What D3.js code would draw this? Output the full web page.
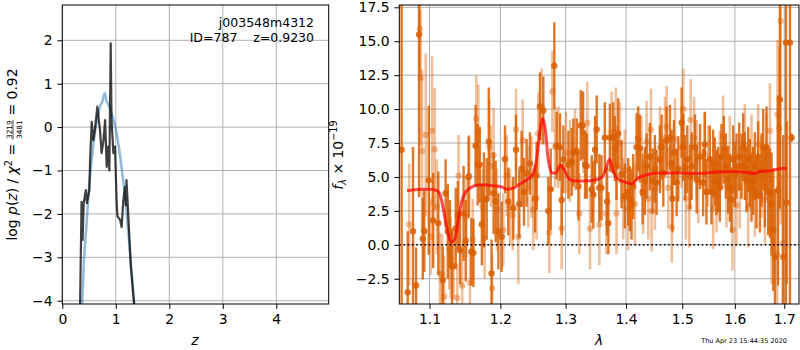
<!DOCTYPE html>
<html><head><meta charset="utf-8">
<script src="https://cdn.jsdelivr.net/npm/d3@7"></script>
<style>
body{margin:0;background:#fff}
svg{display:block}
text{font-family:"DejaVu Sans",sans-serif;fill:#000}
</style>
</head><body>
<svg id="c" width="800" height="350"></svg>
<script>
// ---------------- DATA ----------------
const objName = "j003548m4312";
const objInfo = "ID=787    z=0.9230";
const stamp = "Thu Apr 23 15:44:35 2020";

const pzTicksX = [0, 1, 2, 3, 4];
const pzTicksY = [-4, -3, -2, -1, 0, 1, 2];

// smooth (prior-like) curve, light blue
const priorZ    = [0.37, 0.40, 0.45, 0.50, 0.55, 0.60, 0.65, 0.70, 0.75, 0.78, 0.80, 0.82, 0.85, 0.90, 0.95, 1.00, 1.05, 1.10, 1.15, 1.20, 1.25, 1.30, 1.35];
const priorLogP = [-4.2, -3.2, -2.3, -1.4, -0.75, -0.2, 0.15, 0.45, 0.6, 0.75, 0.78, 0.62, 0.55, 0.40, 0.2, -0.05, -0.4, -0.85, -1.35, -1.95, -2.65, -3.4, -4.2];

// jagged p(z), dark
const pzZ    = [0.33, 0.36, 0.38, 0.40, 0.44, 0.46, 0.505, 0.52, 0.55, 0.58, 0.61, 0.655, 0.705, 0.735, 0.77, 0.80, 0.83, 0.86, 0.88, 0.905, 0.92, 0.955, 0.985, 1.015, 1.03, 1.08, 1.11, 1.14, 1.17, 1.19, 1.20, 1.23, 1.28, 1.33, 1.36];
const pzLogP = [-4.3, -1.72, -2.6, -1.75, -1.45, -1.75, -1.45, -0.76, 0.12, -0.3, -0.05, 0.47, -0.07, -0.6, -0.3, 0.16, -0.92, -0.45, -1.0, 1.93, 0.16, -0.6, -0.45, -1.68, -2.05, -2.14, -2.3, -1.7, -1.38, -1.8, -1.22, -1.95, -3.2, -3.9, -4.3];

const specTicksX = [1.1, 1.2, 1.3, 1.4, 1.5, 1.6, 1.7];
const specTicksY = [-2.5, 0, 2.5, 5, 7.5, 10, 12.5, 15, 17.5];

// dark orange spectrum: [lambda, flux, err]
const specDark = [
 [1.063, 7.0, 30], [1.071, -3.5, 4.5], [1.078, 1.0, 6.2], [1.082, -3.0, 2.8], [1.086, 15.5, 12],
 [1.091, 0.45, 3.0], [1.093, 1.0, 3.0], [1.099, 4.75, 5.5], [1.105, 1.8, 3.5], [1.112, 1.6, 3.8],
 [1.118, -2.6, 2.5], [1.122, 3.8, 2.5], [1.125, 1.0, 3.5], [1.128, 0.8, 2.5], [1.131, -1.6, 2.8],
 [1.136, 1.2, 3.0], [1.139, 2.2, 2.5], [1.142, -0.4, 2.5], [1.147, 2.3, 3.5], [1.150, 0.3, 3.0],
 [1.154, 5.0, 3.0], [1.158, -0.5, 2.5], [1.161, -0.6, 2.5], [1.164, 7.3, 3.0], [1.167, 5.9, 3.0],
 [1.170, 5.9, 2.8], [1.173, 1.5, 3.0], [1.176, 3.3, 3.5], [1.180, 3.4, 3.0], [1.183, 7.6, 4.0],
 [1.187, -2.1, 2.5], [1.190, 3.8, 3.0], [1.193, 3.2, 3.0], [1.197, 1.0, 2.8],
 [1.2019, 0.6, 2.6], [1.2068, 6.3, 2.5], [1.2117, 3.2, 2.5], [1.2192, 2.7, 2.3], [1.2232, 7.0, 2.6],
 [1.2282, 3.0, 2.5], [1.2317, 5.6, 2.8], [1.2352, 3.9, 2.5], [1.2392, 5.3, 2.5], [1.2443, 6.0, 2.3],
 [1.2520, 3.4, 2.5], [1.2545, 5.1, 2.5], [1.2597, 10.2, 2.5], [1.2649, 9.9, 2.5], [1.2727, 2.5, 2.5],
 [1.2764, 4.1, 3.0], [1.2821, 13.2, 3.2], [1.2858, 7.3, 2.5], [1.2911, 7.2, 2.5], [1.2937, 3.3, 2.6],
 [1.2964, 6.3, 2.5], [1.3044, 5.9, 2.5], [1.3097, 6.1, 2.5], [1.3124, 6.8, 2.5], [1.3178, 6.9, 2.4],
 [1.3205, 4.3, 2.5], [1.3243, 8.8, 2.6], [1.3275, 8.8, 2.5], [1.3313, 5.9, 2.5], [1.3341, 5.8, 2.4],
 [1.3423, 4.1, 2.5], [1.3450, 3.7, 2.5], [1.3478, 7.0, 2.5], [1.3505, 8.5, 2.5], [1.3549, 4.2, 2.5],
 [1.3585, 4.2, 2.4], [1.3640, 7.9, 2.6], [1.3679, 3.2, 2.5], [1.3700, 1.6, 2.3], [1.3725, 7.9, 2.5],
 [1.3781, 7.9, 2.6], [1.3809, 7.1, 2.4], [1.3837, 5.8, 2.5], [1.3866, 8.2, 2.6], [1.3923, 5.2, 2.5],
 [1.3980, 3.6, 2.4], [1.4037, 3.9, 2.5], [1.4066, 3.4, 2.4], [1.4095, 3.0, 2.6], [1.4124, 4.3, 2.4],
 [1.4182, 7.2, 2.5], [1.4211, 7.8, 2.4], [1.4240, 7.1, 2.5], [1.4287, 3.9, 2.4], [1.4328, 4.7, 2.5],
 [1.4358, 5.8, 2.4], [1.4416, 6.5, 2.5], [1.4464, 4.7, 2.4], [1.4505, 5.6, 2.5], [1.4535, 4.6, 2.4],
 [1.4595, 6.3, 2.5], [1.4625, 7.2, 2.4], [1.4655, 5.3, 2.5], [1.4715, 7.7, 2.5], [1.4775, 7.9, 2.4],
 [1.4805, 6.0, 2.5], [1.4820, 3.4, 2.5], [1.4848, 6.8, 2.4], [1.4897, 4.6, 2.5], [1.4927, 5.6, 2.4],
 [1.4988, 9.0, 2.6], [1.5019, 7.2, 2.5], [1.5050, 5.7, 2.4], [1.5093, 6.3, 2.5], [1.5143, 5.0, 2.4],
 [1.5174, 5.8, 2.5], [1.5236, 7.2, 2.4], [1.5268, 4.8, 2.5], [1.5331, 6.5, 2.4],
 [1.5389, 4.6, 2.5], [1.5420, 7.4, 2.4], [1.5452, 3.9, 2.4], [1.5515, 6.3, 2.5], [1.5547, 3.9, 2.4],
 [1.5579, 6.0, 2.5], [1.5611, 5.4, 2.5], [1.5643, 4.6, 2.4], [1.5675, 4.8, 2.4], [1.5707, 4.2, 2.5],
 [1.5739, 6.5, 2.4], [1.5785, 7.0, 2.5], [1.5824, 5.8, 2.4], [1.5869, 4.8, 2.5], [1.5901, 4.2, 2.5],
 [1.5934, 3.3, 2.4], [1.5966, 6.3, 2.5], [1.5999, 5.2, 2.4], [1.6032, 5.8, 2.4], [1.6085, 6.5, 2.5],
 [1.6131, 5.8, 2.4], [1.6164, 7.2, 2.5], [1.6197, 5.8, 2.5], [1.6230, 4.8, 2.4], [1.6264, 6.3, 2.4],
 [1.6297, 5.3, 2.5], [1.6330, 4.2, 2.5], [1.6364, 4.7, 2.5], [1.6397, 5.8, 2.5], [1.6431, 3.8, 2.6],
 [1.6464, 6.5, 2.6], [1.6499, 3.6, 2.7], [1.6532, 5.5, 2.7], [1.6566, 7.2, 2.8], [1.6600, 4.2, 2.9],
 [1.6634, 7.2, 3.0], [1.6668, 3.9, 3.2], [1.6703, 3.8, 3.3], [1.6737, 3.0, 3.8], [1.6772, 1.1, 4.5],
 [1.6806, -0.9, 5.0], [1.6870, 4.0, 7.0], [1.6910, 10.7, 8.0], [1.6979, -0.9, 9.0], [1.7035, 14.9, 25],
 [1.7049, 3.1, 6.0], [1.7119, 14.9, 25], [1.7154, 7.9, 0.3]
];

// light orange spectrum: [lambda, flux, err]
const specLight = [
 [1.073, 1.5, 4.5], [1.087, 15.9, 3.5], [1.088, 12.3, 5.0], [1.090, 6.9, 6.0], [1.095, 8.1, 6.0],
 [1.102, 0.6, 2.8], [1.1035, 8.4, 5.5], [1.107, 7.05, 4.5], [1.110, 2.8, 3.5], [1.114, -2.1, 3.0],
 [1.117, -2.2, 3.0], [1.120, -3.8, 3.0], [1.127, -0.3, 3.0], [1.129, -1.0, 3.0], [1.133, -1.5, 2.5],
 [1.138, -3.9, 2.5], [1.140, 5.1, 3.0], [1.145, -3.0, 3.0], [1.151, 2.1, 3.0], [1.155, 5.1, 3.0],
 [1.156, -2.8, 2.5], [1.160, 0.4, 3.0], [1.165, 9.3, 3.2], [1.168, 8.3, 3.5], [1.174, 2.8, 2.8],
 [1.177, 0.5, 3.0], [1.184, 7.2, 3.5], [1.186, 5.8, 3.0], [1.188, -3.2, 2.5], [1.190, 6.6, 3.5],
 [1.195, 2.6, 3.0],
 [1.2043, 1.1, 2.7], [1.2093, 5.1, 3.0], [1.2142, 2.8, 2.8], [1.2182, 2.2, 2.6], [1.2232, 8.5, 3.0],
 [1.2267, 0.6, 3.5], [1.2332, 7.7, 3.0], [1.2418, 4.3, 3.0], [1.2468, 5.0, 3.0], [1.2494, 2.6, 3.0],
 [1.2545, 3.4, 3.0], [1.2571, 8.2, 3.0], [1.2623, 10.2, 2.8], [1.2743, 0.9, 3.0], [1.2790, 11.3, 3.0],
 [1.2832, 7.2, 3.0], [1.2884, 7.2, 3.0], [1.2937, 1.2, 3.0], [1.3006, 6.8, 3.0], [1.3070, 6.2, 3.0],
 [1.3151, 7.0, 3.0], [1.3221, 2.3, 3.0], [1.3286, 8.3, 3.0], [1.3351, 9.0, 3.0], [1.3395, 1.2, 3.0],
 [1.3549, 1.5, 3.0],
 [1.3665, 2.3, 3.0], [1.3753, 8.3, 3.0], [1.3826, 8.6, 3.0], [1.3837, 2.3, 3.0], [1.3894, 7.5, 3.0],
 [1.3951, 3.4, 3.0], [1.3980, 5.5, 3.0], [1.4037, 2.6, 3.0], [1.4153, 3.0, 3.0], [1.4269, 6.5, 3.0],
 [1.4298, 3.8, 3.0], [1.4358, 7.6, 3.0], [1.4387, 3.4, 3.0], [1.4434, 8.5, 3.0], [1.4446, 2.5, 3.0],
 [1.4505, 4.1, 3.0], [1.4595, 7.2, 3.0], [1.4685, 7.9, 3.0], [1.4715, 8.7, 3.0], [1.4745, 4.2, 3.0],
 [1.4810, 1.3, 2.6], [1.4866, 7.8, 3.0], [1.4988, 7.2, 3.0], [1.5019, 10.0, 3.0], [1.5068, 3.4, 3.0],
 [1.5130, 2.8, 3.0], [1.5155, 9.2, 3.0], [1.5218, 7.9, 3.0], [1.5268, 6.2, 3.0], [1.5299, 4.6, 3.0],
 [1.5420, 6.7, 3.0], [1.5484, 5.8, 3.0], [1.5579, 2.7, 3.0], [1.5643, 3.9, 3.0], [1.5707, 5.4, 3.0],
 [1.5770, 8.0, 3.0], [1.5837, 4.3, 3.0], [1.5901, 6.5, 3.0], [1.5953, 1.1, 3.0], [1.6032, 2.9, 3.0],
 [1.6098, 4.2, 3.0], [1.6197, 7.4, 3.0], [1.6264, 2.8, 3.0], [1.6330, 6.6, 3.0], [1.6397, 3.6, 3.0],
 [1.6464, 7.4, 3.0], [1.6532, 5.0, 3.0], [1.6600, 3.3, 3.2], [1.6634, 6.5, 3.2], [1.6703, 8.4, 3.5],
 [1.6737, 1.1, 4.0], [1.6854, -0.7, 5.0], [1.6860, 9.6, 5.5], [1.6896, 8.6, 6.0], [1.6924, 16.5, 15],
 [1.6965, 0.1, 5.0]
];

const modelLam  = [1.07, 1.08, 1.09, 1.10, 1.11, 1.115, 1.12, 1.125, 1.13, 1.135, 1.14, 1.145, 1.15, 1.16, 1.17, 1.18, 1.19, 1.20, 1.21, 1.22, 1.23, 1.24, 1.25, 1.255, 1.26, 1.264, 1.268, 1.272, 1.278, 1.285, 1.292, 1.298, 1.305, 1.315, 1.33, 1.35, 1.36, 1.365, 1.372, 1.378, 1.385, 1.40, 1.41, 1.42, 1.44, 1.46, 1.50, 1.53, 1.56, 1.60, 1.62, 1.64, 1.65, 1.67, 1.69, 1.705];
const modelFlux = [4.0, 4.05, 4.1, 4.1, 4.0, 3.6, 2.3, 0.9, 0.2, 0.5, 2.0, 3.3, 3.9, 4.3, 4.4, 4.4, 4.35, 4.3, 4.1, 4.2, 4.5, 4.8, 5.3, 6.5, 8.5, 9.3, 8.5, 6.5, 5.3, 5.3, 5.9, 5.5, 4.9, 4.7, 4.7, 4.8, 5.0, 5.5, 6.3, 5.4, 4.9, 4.6, 4.5, 4.9, 5.2, 5.3, 5.3, 5.25, 5.35, 5.4, 5.35, 5.25, 5.4, 5.45, 5.6, 5.65];

// ---------------- DRAW ----------------
const svg = d3.select("#c");
const FS = 13.9;
const gridCol = "#b0b0b0";

function frame(g, x, y, xt, yt) {
  const [x0, x1] = x.range(), [y1, y0] = y.range();
  g.append("g").selectAll("line").data(xt).join("line")
    .attr("x1", d => x(d)).attr("x2", d => x(d)).attr("y1", y0).attr("y2", y1)
    .attr("stroke", gridCol).attr("stroke-width", 1);
  g.append("g").selectAll("line").data(yt).join("line")
    .attr("y1", d => y(d)).attr("y2", d => y(d)).attr("x1", x0).attr("x2", x1)
    .attr("stroke", gridCol).attr("stroke-width", 1);
}
function axes(g, x, y, xt, yt, xfmt, yfmt) {
  const [x0, x1] = x.range(), [y1, y0] = y.range();
  const ax = g.append("g").attr("transform", `translate(0,${y1})`)
    .call(d3.axisBottom(x).tickValues(xt).tickFormat(xfmt).tickSizeInner(4.9).tickSizeOuter(0).tickPadding(4.9));
  const ay = g.append("g").attr("transform", `translate(${x0},0)`)
    .call(d3.axisLeft(y).tickValues(yt).tickFormat(yfmt).tickSizeInner(4.9).tickSizeOuter(0).tickPadding(4.9));
  [ax, ay].forEach(a => {
    a.select(".domain").remove();
    a.selectAll("line").attr("stroke", "#000").attr("stroke-width", 1);
    a.selectAll("text").attr("font-size", FS).attr("font-family", "DejaVu Sans").attr("fill", "#000");
  });
  g.append("rect").attr("x", x0).attr("y", y0).attr("width", x1 - x0).attr("height", y1 - y0)
    .attr("fill", "none").attr("stroke", "#000").attr("stroke-width", 1);
}
const minus = s => s.replace("-", "\u2212");

// ---- left panel ----
const xL = d3.scaleLinear().domain([0, 4.98]).range([62.3, 328.7]);
const yL = d3.scaleLinear().domain([-4.076, 2.813]).range([304, 5]);
const gL = svg.append("g");
frame(gL, xL, yL, pzTicksX, pzTicksY);
svg.append("clipPath").attr("id", "clipL").append("rect")
  .attr("x", 62.3).attr("y", 5).attr("width", 328.7 - 62.3).attr("height", 299);
gL.append("path").datum(d3.zip(priorZ, priorLogP))
  .attr("d", d3.line().x(d => xL(d[0])).y(d => yL(d[1])).curve(d3.curveMonotoneX))
  .attr("clip-path", "url(#clipL)").attr("fill", "none")
  .attr("stroke", "rgba(31,119,180,0.5)").attr("stroke-width", 2.5);
gL.append("path").datum(d3.zip(pzZ, pzLogP)).attr("d", d3.line().x(d => xL(d[0])).y(d => yL(d[1])))
  .attr("clip-path", "url(#clipL)").attr("fill", "none")
  .attr("stroke", "rgba(0,0,0,0.75)").attr("stroke-width", 2.2).attr("stroke-linejoin", "round");
axes(gL, xL, yL, pzTicksX, pzTicksY, d => d3.format("d")(d), d => minus(d3.format("d")(d)));

gL.append("text").attr("x", 314).attr("y", 27).attr("text-anchor", "end").attr("font-size", 12.5).text(objName);
gL.append("text").attr("x", 314).attr("y", 42).attr("text-anchor", "end").attr("font-size", 12.5)
  .style("white-space", "pre").text(objInfo);
gL.append("text").attr("x", 195).attr("y", 345).attr("text-anchor", "middle").attr("font-size", FS)
  .attr("font-style", "italic").text("z");

// left y label (mathtext-like)
(function () {
  const g = svg.append("g").attr("transform", "translate(17.3,154.5) rotate(-90)");
  const inner = g.append("g");
  const t1 = inner.append("text").attr("font-size", FS).style("white-space", "pre");
  t1.append("tspan").text("log ");
  t1.append("tspan").attr("font-style", "italic").text("p");
  t1.append("tspan").text("(");
  t1.append("tspan").attr("font-style", "italic").text("z");
  t1.append("tspan").text(") / ");
  t1.append("tspan").attr("font-style", "italic").text("\u03c7");
  t1.append("tspan").attr("font-size", FS * 0.7).attr("dy", -5.5).text("2");
  t1.append("tspan").attr("dy", 5.5).text(" = ");
  const w1 = t1.node().getComputedTextLength();
  const fs2 = 7.3;
  const num = inner.append("text").attr("font-size", fs2).attr("text-anchor", "middle").text("3219");
  const den = inner.append("text").attr("font-size", fs2).attr("text-anchor", "middle").text("3481");
  const wf = Math.max(num.node().getComputedTextLength(), den.node().getComputedTextLength()) + 1;
  const cx = w1 + wf / 2;
  num.attr("x", cx).attr("y", -5.6);
  den.attr("x", cx).attr("y", 4.3);
  inner.append("line").attr("x1", w1).attr("x2", w1 + wf).attr("y1", -4.3).attr("y2", -4.3)
    .attr("stroke", "#000").attr("stroke-width", 0.7);
  const t3 = inner.append("text").attr("font-size", FS).attr("x", w1 + wf).style("white-space", "pre").text(" = 0.92");
  const w = w1 + wf + t3.node().getComputedTextLength();
  inner.attr("transform", `translate(${-w / 2},0)`);
})();

// ---- right panel ----
const xR = d3.scaleLog().domain([1.06, 1.731]).range([399.3, 799]);
const yR = d3.scaleLinear().domain([-4.36, 17.67]).range([304, 5]);
const gR = svg.append("g");
frame(gR, xR, yR, specTicksX, specTicksY);
svg.append("clipPath").attr("id", "clipR").append("rect")
  .attr("x", 399.3).attr("y", 5).attr("width", 799 - 399.3).attr("height", 299);
const plot = gR.append("g").attr("clip-path", "url(#clipR)");

function spectrum(data, col, lw, r) {
  const s = plot.append("g");
  s.selectAll("line").data(data).join("line")
    .attr("x1", d => xR(d[0])).attr("x2", d => xR(d[0]))
    .attr("y1", d => yR(d[1] - d[2])).attr("y2", d => yR(d[1] + d[2]))
    .attr("stroke", col).attr("stroke-width", lw);
  s.selectAll("circle").data(data).join("circle")
    .attr("cx", d => xR(d[0])).attr("cy", d => yR(d[1])).attr("r", r).attr("fill", col);
}
spectrum(specLight, "rgba(217,95,2,0.4)", 2.6, 3.2);
spectrum(specDark, "rgba(217,95,2,0.85)", 2.4, 3.2);

plot.append("line").attr("x1", 399.3).attr("x2", 799).attr("y1", yR(0)).attr("y2", yR(0))
  .attr("stroke", "#000").attr("stroke-width", 1.6).attr("stroke-dasharray", "1.6,2.6");
plot.append("path").datum(d3.zip(modelLam, modelFlux))
  .attr("d", d3.line().x(d => xR(d[0])).y(d => yR(d[1])).curve(d3.curveMonotoneX))
  .attr("fill", "none").attr("stroke", "rgba(255,0,0,0.7)").attr("stroke-width", 3);

axes(gR, xR, yR, specTicksX, specTicksY, d => d3.format(".1f")(d), d => minus(d3.format(".1f")(d)));

gR.append("text").attr("x", 599).attr("y", 345).attr("text-anchor", "middle").attr("font-size", FS)
  .attr("font-style", "italic").text("\u03bb");

(function () {
  const g = svg.append("g").attr("transform", "translate(343,155) rotate(-90)");
  const t = g.append("text").attr("font-size", FS).attr("text-anchor", "middle").style("white-space", "pre");
  t.append("tspan").attr("font-style", "italic").text("f");
  t.append("tspan").attr("font-style", "italic").attr("font-size", FS * 0.7).attr("dy", 3).text("\u03bb");
  t.append("tspan").attr("dy", -3).text(" \u00d7 10");
  t.append("tspan").attr("font-size", FS * 0.7).attr("dy", -6).text("\u221219");
})();

svg.append("text").attr("x", 787).attr("y", 343).attr("text-anchor", "end").attr("font-size", 6.5).text(stamp);
</script>
</body></html>
